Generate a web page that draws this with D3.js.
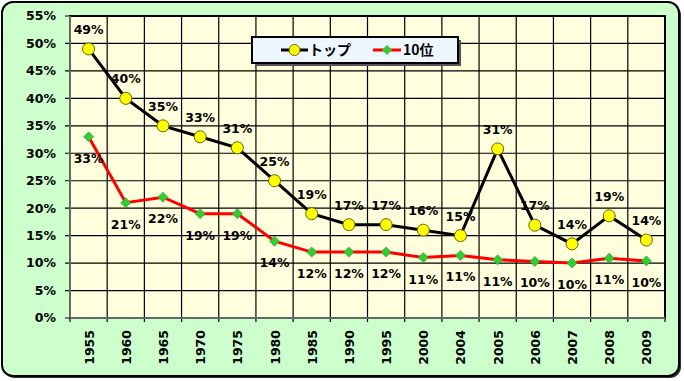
<!DOCTYPE html>
<html><head><meta charset="utf-8">
<script src="https://cdn.jsdelivr.net/npm/d3@7"></script>
<style>body{margin:0;background:#fff}svg{display:block}</style>
</head><body>
<svg id="c" width="684" height="381"></svg>
<script>
const years = ["1955","1960","1965","1970","1975","1980","1985","1990","1995","2000","2004","2005","2006","2007","2008","2009"];
const topShare = [49,40,35,33,31,25,19,17,17,16,15,30.8,16.9,13.5,18.6,14.2];
const tenthShare = [33,21,22,19,19,14,12,12,12,11,11.4,10.6,10.3,10.0,10.9,10.4];
const topLabels = ["49%","40%","35%","33%","31%","25%","19%","17%","17%","16%","15%","31%","17%","14%","19%","14%"];
const tenthLabels = ["33%","21%","22%","19%","19%","14%","12%","12%","12%","11%","11%","11%","10%","10%","11%","10%"];
const yTicks = [0,5,10,15,20,25,30,35,40,45,50,55];
const seriesNames = ["トップ","10位"];

const svg = d3.select("#c");
const font = "Tahoma, 'DejaVu Sans', Verdana, sans-serif";
const L=70,R=665,T=16,B=318;

// outer frame
svg.append("rect").attr("x",4).attr("y",4).attr("width",677).attr("height",374).attr("rx",11).attr("fill","#333");
svg.append("rect").attr("x",2).attr("y",2).attr("width",677).attr("height",374).attr("rx",11)
  .attr("fill","#ccffcc").attr("stroke","#000").attr("stroke-width",2);

const x = d3.scaleBand().domain(years).range([L,R]).padding(0);
const y = d3.scaleLinear().domain([0,55]).range([B,T]);

svg.append("rect").attr("x",L).attr("y",T).attr("width",R-L).attr("height",B-T).attr("fill","#ffffdd");

// grid
const g = svg.append("g");
g.selectAll("line.h").data(yTicks).join("line")
  .attr("x1",L-5).attr("x2",R).attr("y1",d=>y(d)).attr("y2",d=>y(d))
  .attr("stroke","#000").attr("stroke-width",1.2);
const bounds = years.map(d=>x(d)).concat([R]);
g.selectAll("line.v").data(bounds).join("line")
  .attr("x1",d=>d).attr("x2",d=>d).attr("y1",T).attr("y2",B+4)
  .attr("stroke","#000").attr("stroke-width",1.2);
svg.append("rect").attr("x",L).attr("y",T).attr("width",R-L).attr("height",B-T)
  .attr("fill","none").attr("stroke","#000").attr("stroke-width",2);
svg.append("line").attr("x1",L).attr("x2",R).attr("y1",B).attr("y2",B).attr("stroke","#666").attr("stroke-width",2);
svg.append("line").attr("x1",L).attr("x2",L).attr("y1",T).attr("y2",B).attr("stroke","#666").attr("stroke-width",2);

// y labels
svg.selectAll("text.yl").data(yTicks).join("text")
  .attr("x",L-14).attr("y",d=>y(d)).attr("dy","0.35em").attr("text-anchor","end")
  .attr("font-family",font).attr("font-weight","bold").attr("font-size",12.5).attr("fill","#000")
  .text(d=>d+"%");
// x labels
svg.selectAll("text.xl").data(years).join("text")
  .attr("transform",d=>`translate(${x(d)+x.bandwidth()/2+5},330) rotate(-90)`)
  .attr("text-anchor","end")
  .attr("font-family",font).attr("font-weight","bold").attr("font-size",12.5).attr("fill","#000")
  .text(d=>d);

const cx = d=>x(d)+x.bandwidth()/2;
const line = d3.line().x((d,i)=>cx(years[i])).y(d=>y(d));

svg.append("path").datum(tenthShare).attr("d",line).attr("fill","none").attr("stroke","#ff0000").attr("stroke-width",3);
svg.append("path").datum(topShare).attr("d",line).attr("fill","none").attr("stroke","#000").attr("stroke-width",3);

const diamond = d3.symbol().type(d3.symbolSquare).size(50);
svg.selectAll("path.dm").data(tenthShare).join("path")
  .attr("transform",(d,i)=>`translate(${cx(years[i])},${y(d)}) rotate(45)`)
  .attr("d",diamond).attr("fill","#33cc33").attr("stroke","#229922").attr("stroke-width",0.6);
svg.selectAll("circle.tp").data(topShare).join("circle")
  .attr("cx",(d,i)=>cx(years[i])).attr("cy",d=>y(d)).attr("r",6)
  .attr("fill","#ffff00").attr("stroke","#666600").attr("stroke-width",1);

// data labels
svg.selectAll("text.tl").data(topShare).join("text")
  .attr("x",(d,i)=>cx(years[i])).attr("y",d=>y(d)-15).attr("text-anchor","middle")
  .attr("font-family",font).attr("font-weight","bold").attr("font-size",12.5).attr("fill","#000")
  .text((d,i)=>topLabels[i]);
svg.selectAll("text.bl").data(tenthShare).join("text")
  .attr("x",(d,i)=>cx(years[i])).attr("y",d=>y(d)+26).attr("text-anchor","middle")
  .attr("font-family",font).attr("font-weight","bold").attr("font-size",12.5).attr("fill","#000")
  .text((d,i)=>tenthLabels[i]);

// legend
const lg = svg.append("g");
lg.append("rect").attr("x",255).attr("y",40).attr("width",206).attr("height",26).attr("fill","#555");
lg.append("rect").attr("x",252).attr("y",37).attr("width",206).attr("height",26)
  .attr("fill","#eef7ff").attr("stroke","#000").attr("stroke-width",2);
const ly = 50;
lg.append("line").attr("x1",281).attr("x2",308).attr("y1",ly).attr("y2",ly).attr("stroke","#000").attr("stroke-width",3);
lg.append("circle").attr("cx",294.5).attr("cy",ly).attr("r",5.5).attr("fill","#ffff00").attr("stroke","#666600");
lg.append("text").attr("x",309).attr("y",ly).attr("dy","0.36em").attr("font-family","'Noto Sans CJK JP', sans-serif")
  .attr("font-weight","bold").attr("font-size",14).text(seriesNames[0]);
lg.append("line").attr("x1",373).attr("x2",401).attr("y1",ly).attr("y2",ly).attr("stroke","#ff0000").attr("stroke-width",3);
lg.append("path").attr("transform",`translate(387,${ly}) rotate(45)`).attr("d",diamond).attr("fill","#33cc33");
lg.append("text").attr("x",403).attr("y",ly).attr("dy","0.36em").attr("font-family","'Noto Sans CJK JP', sans-serif")
  .attr("font-weight","bold").attr("font-size",14).text(seriesNames[1]);
</script>
</body></html>
